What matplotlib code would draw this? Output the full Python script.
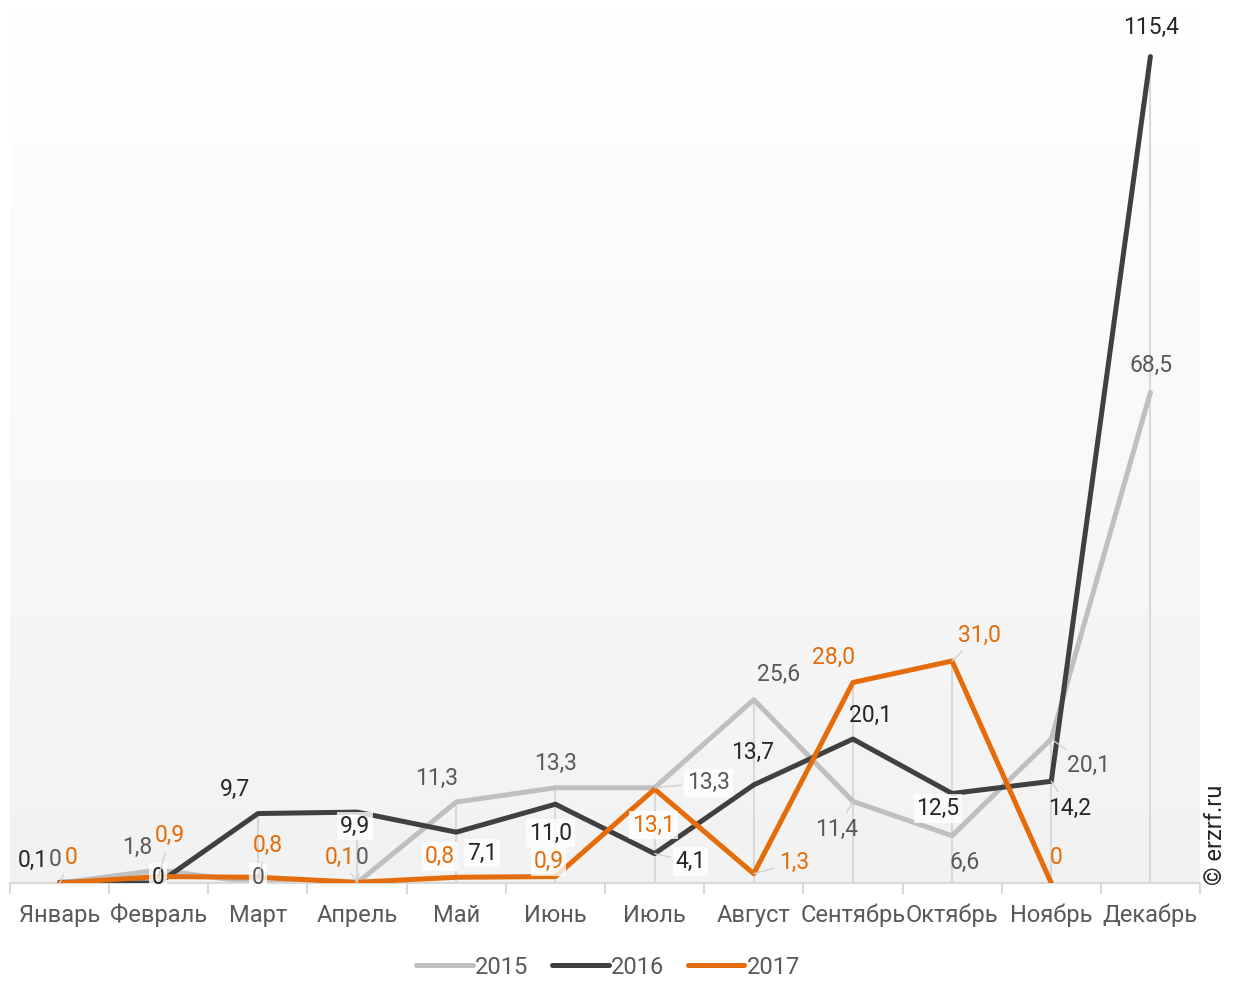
import numpy as np
import matplotlib.pyplot as plt

plt.rcParams['font.family'] = ['Roboto', 'DejaVu Sans']

months = ['Январь', 'Февраль', 'Март', 'Апрель', 'Май', 'Июнь',
          'Июль', 'Август', 'Сентябрь', 'Октябрь', 'Ноябрь', 'Декабрь']
years = ['2015', '2016', '2017']

v2015 = [0, 1.8, 0, 0, 11.3, 13.3, 13.3, 25.6, 11.4, 6.6, 20.1, 68.5]
v2016 = [0.1, 0, 9.7, 9.9, 7.1, 11.0, 4.1, 13.7, 20.1, 12.5, 14.2, 115.4]
v2017 = [0, 0.9, 0.8, 0.1, 0.8, 0.9, 13.1, 1.3, 28.0, 31.0, 0, None]

colors = ['#bfbfbf', '#404040', '#e46c0a']
label_colors = ['#595959', '#262626', '#e46c0a']

# label offsets in pixels (dx, dy), box flag, leader flag
off2015 = [(-4, 23), (-22, 23), (0, 6), (5, 26), (-20, 24), (0, 24),
           (54, 5), (25, 25), (-16, -28), (13, -27), (37, -26), (1, 27)]
off2016 = [(-27, 22), (-1, 6), (-23, 24), (-2, -14), (26, -21), (-5, -29),
           (36, -8), (-1, 32), (18, 24), (-14, -15), (18, -27), (1, 29)]
off2017 = [(12, 25), (11, 41), (10, 32), (-17, 25), (-16, 21), (-7, 15),
           (-1, -36), (40, 11), (-19, 25), (27, 26), (5, 25), None]
box2015 = [0, 0, 1, 0, 0, 0, 1, 0, 0, 0, 0, 0]
box2016 = [0, 1, 0, 1, 1, 1, 1, 0, 0, 1, 0, 0]
box2017 = [0, 0, 0, 0, 1, 1, 1, 0, 0, 0, 0, 0]
lead2015 = [0, 0, 0, 1, 0, 0, 1, 0, 1, 0, 1, 0]
lead2016 = [0, 0, 0, 0, 0, 0, 1, 0, 0, 0, 1, 0]
lead2017 = [1, 1, 1, 1, 0, 0, 0, 1, 0, 1, 0, 0]

W, H = 1242, 981
fig = plt.figure(figsize=(W / 100, H / 100), dpi=100)
ax = fig.add_axes([10 / W, (H - 883) / H, 1190 / W, 873 / H])

x = np.arange(len(months))
ymax = 121.9
ax.set_xlim(-0.5, 11.5)
ax.set_ylim(0, ymax)

# background gradient
grad = np.linspace(0.949, 1.0, 256).reshape(-1, 1)
ax.imshow(np.dstack([grad] * 3), extent=(-0.5, 11.5, 0, ymax), origin='lower',
          aspect='auto', zorder=0)

series = [v2015, v2016, v2017]
arr = [np.array([np.nan if v is None else v for v in s], dtype=float) for s in series]

# drop lines
tops = np.nanmax(np.vstack(arr), axis=0)
ax.vlines(x, 0, tops, color='#d9d9d9', lw=1.5, zorder=1)

for i, a in enumerate(arr):
    ax.plot(x, a, color=colors[i], lw=3.6, solid_capstyle='round',
            solid_joinstyle='round', label=years[i], zorder=2 + i)


def fmt(v):
    if v == 0:
        return '0'
    return f'{v:.1f}'.replace('.', ',')


offs = [off2015, off2016, off2017]
boxes = [box2015, box2016, box2017]
leads = [lead2015, lead2016, lead2017]
for i, a in enumerate(arr):
    for j, v in enumerate(a):
        if np.isnan(v):
            continue
        dx, dy = offs[i][j]
        bbox = None
        if boxes[i][j]:
            bbox = dict(boxstyle='square,pad=0.12', fc='white', ec='none', alpha=0.8)
        arrow = None
        if leads[i][j]:
            arrow = dict(arrowstyle='-', color='#d0d0d0', lw=1, shrinkA=2, shrinkB=0)
        ax.annotate(fmt(v), (j, v), xytext=(dx, dy), textcoords='offset pixels',
                    ha='center', va='center', fontsize=16.5, color=label_colors[i],
                    bbox=bbox, arrowprops=arrow, zorder=6)

for s in ['top', 'left', 'right']:
    ax.spines[s].set_visible(False)
ax.spines['bottom'].set_color('#d9d9d9')
ax.spines['bottom'].set_linewidth(1.5)
ax.set_yticks([])
ax.set_xticks(x)
ax.set_xticklabels(months, fontsize=17, color='#595959')
ax.tick_params(axis='x', which='major', length=0, pad=15)
ax.set_xticks(np.arange(-0.5, 12, 1), minor=True)
ax.tick_params(axis='x', which='minor', length=8, width=1.5, color='#d9d9d9')

leg = fig.legend(loc='center', bbox_to_anchor=(608 / W, 1 - 967 / H), ncol=3,
                 frameon=False, fontsize=17, handlelength=2.4, handletextpad=0.1,
                 columnspacing=1.0)
for t in leg.get_texts():
    t.set_color('#595959')

fig.text(1215 / W, 1 - 835 / H, '© erzrf.ru', rotation=90, ha='center',
         va='center', fontsize=17, color='#262626')

fig.savefig('out.png', dpi=100)
